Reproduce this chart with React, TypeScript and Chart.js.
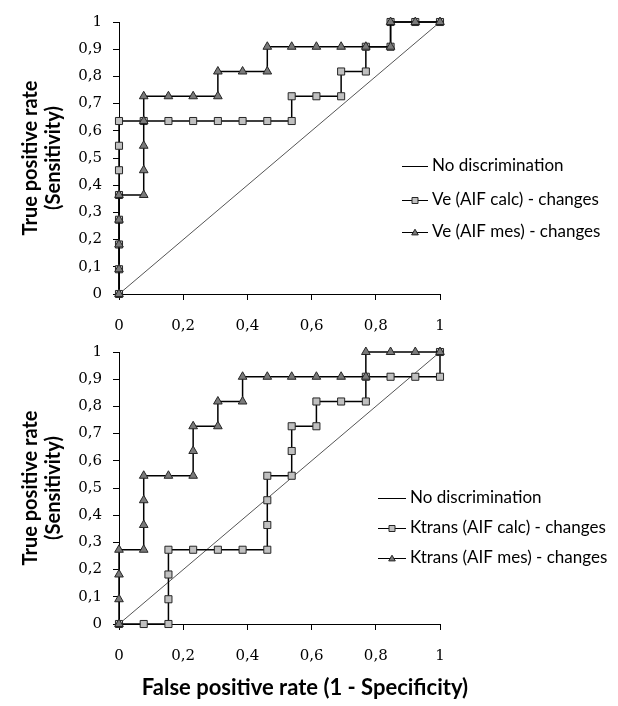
import React, { useEffect, useRef } from 'react';
import { Chart, registerables } from 'chart.js';

Chart.register(...registerables);

// ---- tick labels ----
const xTickLabels = ['0', '0,2', '0,4', '0,6', '0,8', '1'];
const yTickLabels = ['0', '0,1', '0,2', '0,3', '0,4', '0,5', '0,6', '0,7', '0,8', '0,9', '1'];

// ---- reference line ----
const diagFpr = [0, 1];
const diagTpr = [0, 1];

// ---- top panel: Ve ----
const veCalcFpr = [0, 0, 0, 0, 0, 0, 0, 0, 0.077, 0.154, 0.231, 0.308, 0.385, 0.462, 0.538, 0.538, 0.615, 0.692, 0.692, 0.769, 0.769, 0.846, 0.846, 0.923, 1];
const veCalcTpr = [0, 0.091, 0.182, 0.273, 0.364, 0.455, 0.545, 0.636, 0.636, 0.636, 0.636, 0.636, 0.636, 0.636, 0.636, 0.727, 0.727, 0.727, 0.818, 0.818, 0.909, 0.909, 1, 1, 1];
const veMesFpr = [0, 0, 0, 0, 0, 0.077, 0.077, 0.077, 0.077, 0.077, 0.154, 0.231, 0.308, 0.308, 0.385, 0.462, 0.462, 0.538, 0.615, 0.692, 0.769, 0.846, 0.846, 0.923, 1];
const veMesTpr = [0, 0.091, 0.182, 0.273, 0.364, 0.364, 0.455, 0.545, 0.636, 0.727, 0.727, 0.727, 0.727, 0.818, 0.818, 0.818, 0.909, 0.909, 0.909, 0.909, 0.909, 0.909, 1, 1, 1];

// ---- bottom panel: Ktrans ----
const ktCalcFpr = [0, 0.077, 0.154, 0.154, 0.154, 0.154, 0.231, 0.308, 0.385, 0.462, 0.462, 0.462, 0.462, 0.538, 0.538, 0.538, 0.615, 0.615, 0.692, 0.769, 0.769, 0.846, 0.923, 1, 1];
const ktCalcTpr = [0, 0, 0, 0.091, 0.182, 0.273, 0.273, 0.273, 0.273, 0.273, 0.364, 0.455, 0.545, 0.545, 0.636, 0.727, 0.727, 0.818, 0.818, 0.818, 0.909, 0.909, 0.909, 0.909, 1];
const ktMesFpr = [0, 0, 0, 0, 0.077, 0.077, 0.077, 0.077, 0.154, 0.231, 0.231, 0.231, 0.308, 0.308, 0.385, 0.385, 0.462, 0.538, 0.615, 0.692, 0.769, 0.769, 0.846, 0.923, 1];
const ktMesTpr = [0, 0.091, 0.182, 0.273, 0.273, 0.364, 0.455, 0.545, 0.545, 0.545, 0.636, 0.727, 0.727, 0.818, 0.818, 0.909, 0.909, 0.909, 0.909, 0.909, 0.909, 1, 1, 1, 1];

const diagLabel = 'No discrimination';
const topLabels = ['Ve (AIF calc) - changes', 'Ve (AIF mes) - changes'];
const bottomLabels = ['Ktrans (AIF calc) - changes', 'Ktrans (AIF mes) - changes'];
const yTitle = ['True positive rate', '(Sensitivity)'];
const xTitle = 'False positive rate (1 - Specificity)';

const SQ_FILL = '#c0c0c0';
const TRI_FILL = '#7a7a7a';
const MARK_BORDER = '#262626';
const TITLE_FONT = 'Lato';
const TICK_FONT = 'DejaVu Serif';

const zip = (xs: number[], ys: number[]) => xs.map((x, i) => ({ x, y: ys[i] }));

type PanelProps = {
  top: number;
  height: number;
  labels: string[];
  calcFpr: number[];
  calcTpr: number[];
  mesFpr: number[];
  mesTpr: number[];
  legendX: number;
  legendLineW: number;
  legendRows: number[];
  showXTitle: boolean;
};

function drawMarker(ctx: CanvasRenderingContext2D, kind: string, x: number, y: number, r: number) {
  ctx.save();
  ctx.lineWidth = 1;
  ctx.strokeStyle = MARK_BORDER;
  ctx.beginPath();
  if (kind === 'rect') {
    ctx.fillStyle = SQ_FILL;
    ctx.rect(x - r, y - r, 2 * r, 2 * r);
  } else {
    ctx.fillStyle = TRI_FILL;
    ctx.moveTo(x, y - r * 1.1);
    ctx.lineTo(x + r * 1.1, y + r * 0.8);
    ctx.lineTo(x - r * 1.1, y + r * 0.8);
    ctx.closePath();
  }
  ctx.fill();
  ctx.stroke();
  ctx.restore();
}

function Panel(p: PanelProps) {
  const ref = useRef<HTMLCanvasElement | null>(null);
  useEffect(() => {
    if (!ref.current) return;
    const legendPlugin = {
      id: 'customLegend',
      afterDraw(chart: any) {
        const ctx = chart.ctx as CanvasRenderingContext2D;
        const items = [
          { text: diagLabel, kind: 'none' },
          { text: p.labels[0], kind: 'rect' },
          { text: p.labels[1], kind: 'triangle' },
        ];
        ctx.save();
        items.forEach((it, i) => {
          const y = p.legendRows[i];
          ctx.strokeStyle = '#000';
          ctx.lineWidth = 1;
          ctx.beginPath();
          ctx.moveTo(p.legendX, y + 0.5);
          ctx.lineTo(p.legendX + p.legendLineW, y + 0.5);
          ctx.stroke();
          if (it.kind !== 'none') drawMarker(ctx, it.kind, p.legendX + p.legendLineW / 2, y + 0.5, 3);
          ctx.fillStyle = '#000';
          ctx.font = `17px ${TITLE_FONT}`;
          ctx.textBaseline = 'middle';
          ctx.textAlign = 'left';
          ctx.fillText(it.text, p.legendX + p.legendLineW + 4, y);
        });
        if (p.showXTitle) {
          ctx.font = `bold 22px ${TITLE_FONT}`;
          ctx.textAlign = 'center';
          ctx.textBaseline = 'middle';
          ctx.fillStyle = '#000';
          ctx.fillText(xTitle, 305, 358);
        }
        ctx.restore();
      },
    };

    const chart = new Chart(ref.current, {
      type: 'line',
      data: {
        datasets: [
          {
            label: diagLabel,
            data: zip(diagFpr, diagTpr),
            borderColor: '#555',
            borderWidth: 1,
            pointRadius: 0,
            order: 3,
            clip: false,
          },
          {
            label: p.labels[0],
            data: zip(p.calcFpr, p.calcTpr),
            borderColor: '#000',
            borderWidth: 1.5,
            pointStyle: 'rect',
            pointRadius: 5,
            pointBackgroundColor: SQ_FILL,
            pointBorderColor: MARK_BORDER,
            pointBorderWidth: 1,
            order: 2,
            clip: false,
          },
          {
            label: p.labels[1],
            data: zip(p.mesFpr, p.mesTpr),
            borderColor: '#000',
            borderWidth: 1.5,
            pointStyle: 'triangle',
            pointRadius: 5,
            pointBackgroundColor: TRI_FILL,
            pointBorderColor: MARK_BORDER,
            pointBorderWidth: 1,
            order: 1,
            clip: false,
          },
        ],
      },
      options: {
        animation: false,
        responsive: false,
        parsing: false as any,
        layout: { padding: { top: 22, right: 178, bottom: 0, left: 0 } },
        plugins: { legend: { display: false }, tooltip: { enabled: false } },
        elements: { line: { tension: 0 } },
        scales: {
          x: {
            type: 'linear',
            min: 0,
            max: 1,
            ticks: {
              stepSize: 0.2,
              autoSkip: false,
              maxRotation: 0,
              padding: 17,
              color: '#000',
              font: { family: TICK_FONT, size: 15 },
              callback: (_v: any, i: number) => xTickLabels[i],
            },
            grid: { display: true, drawOnChartArea: false, drawTicks: true, tickLength: 6, color: '#000', lineWidth: 1 },
            border: { display: true, color: '#000', width: 1 },
            afterFit: (s: any) => {
              s.height = p.height - 294;
            },
          },
          y: {
            type: 'linear',
            min: 0,
            max: 1,
            ticks: {
              stepSize: 0.1,
              autoSkip: false,
              padding: 11,
              color: '#000',
              font: { family: TICK_FONT, size: 15 },
              callback: (_v: any, i: number) => yTickLabels[i],
            },
            grid: { display: true, drawOnChartArea: false, drawTicks: true, tickLength: 6, color: '#000', lineWidth: 1 },
            border: { display: true, color: '#000', width: 1 },
            title: {
              display: true,
              text: yTitle,
              color: '#000',
              font: { family: TITLE_FONT, size: 20, weight: 'bold', lineHeight: 1.15 },
              padding: { top: 19, bottom: 0 },
            },
            afterFit: (s: any) => {
              s.width = 119;
            },
          },
        },
      } as any,
      plugins: [legendPlugin],
    });
    return () => chart.destroy();
  }, []);
  return (
    <canvas
      ref={ref}
      width={618}
      height={p.height}
      style={{ position: 'absolute', left: 0, top: p.top, width: 618, height: p.height, display: 'block' }}
    />
  );
}

export default function App() {
  return (
    <div style={{ position: 'absolute', left: 0, top: 0, width: 618, height: 706, background: '#fff', overflow: 'hidden' }}>
      <Panel
        top={0}
        height={340}
        labels={topLabels}
        calcFpr={veCalcFpr}
        calcTpr={veCalcTpr}
        mesFpr={veMesFpr}
        mesTpr={veMesTpr}
        legendX={402}
        legendLineW={26}
        legendRows={[166, 200, 232]}
        showXTitle={false}
      />
      <Panel
        top={330}
        height={376}
        labels={bottomLabels}
        calcFpr={ktCalcFpr}
        calcTpr={ktCalcTpr}
        mesFpr={ktMesFpr}
        mesTpr={ktMesTpr}
        legendX={378}
        legendLineW={28}
        legendRows={[168, 198, 228]}
        showXTitle={true}
      />
    </div>
  );
}
